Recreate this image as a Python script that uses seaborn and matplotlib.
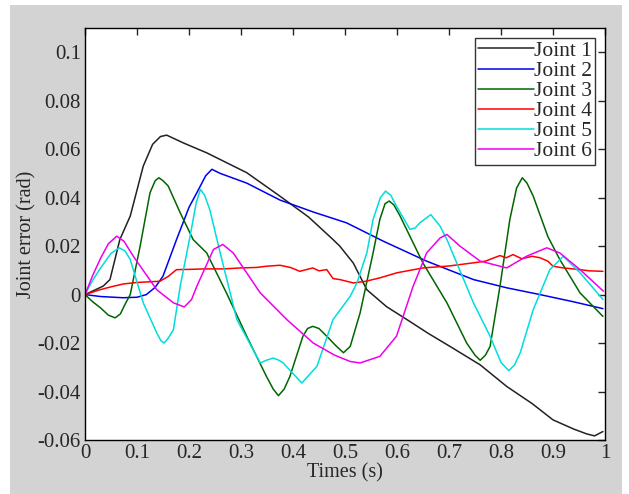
import matplotlib
matplotlib.use("Agg")
import matplotlib.pyplot as plt
import pandas as pd
import numpy as np
import seaborn as sns
from matplotlib.patches import Rectangle

# values (time in s, error in rad)
t1 = [0, 0.02, 0.035, 0.048, 0.067, 0.087, 0.112, 0.13, 0.145, 0.157, 0.17, 0.19, 0.234, 0.311, 0.375, 0.43, 0.477, 0.49, 0.516, 0.542, 0.58, 0.619, 0.66, 0.702, 0.76, 0.811, 0.86, 0.90, 0.94, 0.965, 0.98, 0.996]
j1 = [0, 0.002, 0.0035, 0.0062, 0.0227, 0.0324, 0.053, 0.062, 0.0652, 0.0658, 0.0645, 0.0625, 0.0585, 0.0503, 0.0406, 0.032, 0.0227, 0.020, 0.013, 0.002, -0.005, -0.0103, -0.016, -0.0214, -0.029, -0.0379, -0.045, -0.0517, -0.0555, -0.0575, -0.0583, -0.0565]

t2 = [0, 0.03, 0.073, 0.1, 0.118, 0.135, 0.15, 0.176, 0.2, 0.215, 0.232, 0.244, 0.26, 0.311, 0.375, 0.44, 0.503, 0.574, 0.657, 0.747, 0.811, 0.875, 0.94, 0.996]
j2 = [0, -0.0008, -0.0013, -0.0011, 0, 0.003, 0.0076, 0.0227, 0.036, 0.042, 0.049, 0.0517, 0.050, 0.046, 0.039, 0.034, 0.0296, 0.022, 0.0138, 0.0062, 0.0028, 0, -0.003, -0.0058]

t3 = [0, 0.015, 0.03, 0.045, 0.058, 0.068, 0.077, 0.087, 0.106, 0.125, 0.135, 0.142, 0.15, 0.16, 0.183, 0.208, 0.234, 0.272, 0.311, 0.349, 0.362, 0.372, 0.383, 0.394, 0.419, 0.428, 0.438, 0.45, 0.465, 0.482, 0.497, 0.51, 0.529, 0.554, 0.567, 0.577, 0.585, 0.594, 0.606, 0.625, 0.65, 0.696, 0.734, 0.75, 0.76, 0.77, 0.779, 0.798, 0.817, 0.83, 0.841, 0.85, 0.862, 0.89, 0.913, 0.952, 0.996]
j3 = [0, -0.003, -0.0055, -0.0085, -0.0096, -0.008, -0.004, 0, 0.02, 0.042, 0.047, 0.0482, 0.047, 0.0448, 0.0338, 0.0227, 0.0172, 0.0007, -0.0172, -0.0338, -0.039, -0.0417, -0.039, -0.0338, -0.0172, -0.014, -0.0131, -0.014, -0.0172, -0.021, -0.024, -0.0214, -0.0076, 0.0172, 0.031, 0.0375, 0.0386, 0.037, 0.0324, 0.024, 0.013, -0.0034, -0.02, -0.025, -0.0271, -0.025, -0.0214, 0.0034, 0.031, 0.044, 0.0482, 0.046, 0.0406, 0.024, 0.0145, 0.0007, -0.009]

t4 = [0, 0.029, 0.05, 0.074, 0.1, 0.144, 0.16, 0.176, 0.2, 0.23, 0.266, 0.3, 0.33, 0.349, 0.375, 0.395, 0.413, 0.438, 0.45, 0.465, 0.477, 0.49, 0.516, 0.54, 0.567, 0.6, 0.65, 0.7, 0.747, 0.77, 0.798, 0.81, 0.823, 0.84, 0.86, 0.875, 0.89, 0.9, 0.92, 0.952, 0.97, 0.996]
j4 = [0, 0.002, 0.0032, 0.0044, 0.005, 0.0055, 0.0075, 0.0103, 0.0104, 0.0106, 0.0106, 0.011, 0.0112, 0.0117, 0.0121, 0.0112, 0.0096, 0.011, 0.0098, 0.0103, 0.0066, 0.0062, 0.0048, 0.0055, 0.0069, 0.009, 0.011, 0.0118, 0.0131, 0.0138, 0.0161, 0.0152, 0.0165, 0.0148, 0.0158, 0.0152, 0.0138, 0.0117, 0.011, 0.0103, 0.0098, 0.0096]

t5 = [0, 0.015, 0.03, 0.05, 0.066, 0.077, 0.087, 0.112, 0.138, 0.146, 0.152, 0.16, 0.17, 0.183, 0.202, 0.214, 0.222, 0.23, 0.24, 0.26, 0.292, 0.337, 0.35, 0.362, 0.372, 0.381, 0.417, 0.446, 0.477, 0.51, 0.523, 0.542, 0.554, 0.568, 0.578, 0.588, 0.599, 0.625, 0.635, 0.644, 0.665, 0.683, 0.696, 0.747, 0.779, 0.8, 0.815, 0.826, 0.837, 0.862, 0.894, 0.92, 0.952, 0.996]
j5 = [0, 0.006, 0.011, 0.017, 0.0193, 0.018, 0.0145, -0.0034, -0.0158, -0.019, -0.02, -0.018, -0.0145, 0.0034, 0.024, 0.038, 0.0434, 0.041, 0.035, 0.0172, -0.0103, -0.0282, -0.027, -0.0262, -0.027, -0.0282, -0.0365, -0.0296, -0.0103, -0.0007, 0.0048, 0.0172, 0.031, 0.040, 0.0427, 0.041, 0.0365, 0.0269, 0.0275, 0.0296, 0.033, 0.0282, 0.0227, -0.0034, -0.0172, -0.028, -0.0314, -0.029, -0.024, -0.0062, 0.0103, 0.0158, 0.009, -0.002]

t6 = [0, 0.015, 0.03, 0.045, 0.061, 0.075, 0.093, 0.138, 0.17, 0.191, 0.205, 0.215, 0.247, 0.265, 0.285, 0.337, 0.388, 0.439, 0.48, 0.51, 0.529, 0.567, 0.599, 0.631, 0.657, 0.683, 0.696, 0.721, 0.76, 0.811, 0.849, 0.888, 0.913, 0.952, 0.997]
j6 = [0, 0.008, 0.015, 0.021, 0.0241, 0.022, 0.0158, 0.002, -0.0034, -0.0051, -0.002, 0.0034, 0.0186, 0.0207, 0.0172, 0.0007, -0.0103, -0.02, -0.025, -0.0276, -0.0282, -0.0255, -0.0172, 0.0034, 0.0172, 0.0234, 0.0248, 0.02, 0.0138, 0.011, 0.0158, 0.0193, 0.0172, 0.0103, 0.0014]

labels = ["Joint 1", "Joint 2", "Joint 3", "Joint 4", "Joint 5", "Joint 6"]
colors = ["#222222", "#0000ee", "#006600", "#ff0000", "#00dddd", "#ee00ee"]

times = [t1, t2, t3, t4, t5, t6]
errs = [j1, j2, j3, j4, j5, j6]
frames = []
for lab, t, e in zip(labels, times, errs):
    frames.append(pd.DataFrame({"time": t, "err": e, "joint": lab}))
df = pd.concat(frames, ignore_index=True)

sns.set_style("white")
plt.rcParams['font.family'] = ['Liberation Serif', 'DejaVu Serif']
plt.rcParams['font.size'] = 14

fig = plt.figure(figsize=(6.29, 4.94), dpi=100, facecolor='white')
fig.patches.append(Rectangle((10 / 629, 0), 612 / 629, 489 / 494, transform=fig.transFigure,
                             facecolor='#d3d3d3', edgecolor='none', zorder=-10))
ax = fig.add_axes([85 / 629, 54 / 494, 520 / 629, 412 / 494])

sns.lineplot(data=df, x="time", y="err", hue="joint", palette=dict(zip(labels, colors)),
             sort=False, estimator=None, linewidth=1.1, ax=ax)

ax.set_xlim(0, 1)
ax.set_ylim(-0.06, 0.11)
ax.set_xticks(np.arange(0, 1.01, 0.1))
ax.set_xticklabels(["0", "0.1", "0.2", "0.3", "0.4", "0.5", "0.6", "0.7", "0.8", "0.9", "1"])
ax.set_yticks([-0.06, -0.04, -0.02, 0, 0.02, 0.04, 0.06, 0.08, 0.1])
ax.set_yticklabels(["-0.06", "-0.04", "-0.02", "0", "0.02", "0.04", "0.06", "0.08", "0.1"])
ax.tick_params(direction='in', length=5, width=1, top=True, right=True, labelsize=15, pad=3)
for s in ax.spines.values():
    s.set_color('black')
    s.set_linewidth(1.0)
ax.set_xlabel("Times (s)", fontsize=14.5, labelpad=0)
ax.set_ylabel("Joint error (rad)", fontsize=14.5, labelpad=1)

leg = ax.legend(loc='upper right', fontsize=15.5, frameon=True, fancybox=False,
                handlelength=2.6, handletextpad=0.0, labelspacing=0.0,
                borderpad=0.15, borderaxespad=0.45)
leg.get_frame().set_edgecolor('black')
leg.get_frame().set_linewidth(1.0)

fig.savefig("out.png", dpi=100, facecolor=fig.get_facecolor())
